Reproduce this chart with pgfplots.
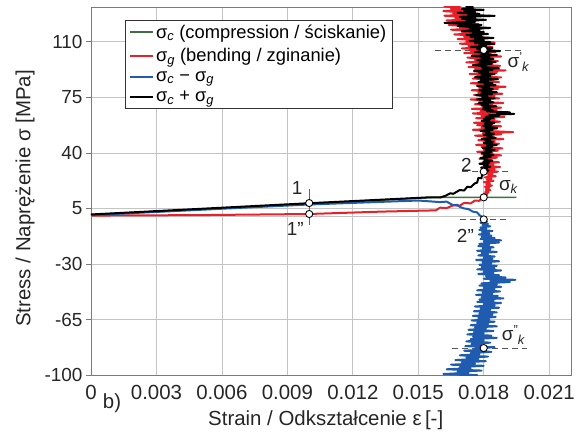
\documentclass[border=0pt]{standalone}
\usepackage{pgfplots}
\pgfplotsset{compat=1.18}
\usepackage{fontspec}
\setmainfont{Liberation Sans}
\definecolor{cgreen}{HTML}{3F6F3F}
\definecolor{cred}{HTML}{E8202A}
\definecolor{cblue}{HTML}{1F5BAE}
\definecolor{gridc}{HTML}{C4C4C4}
\definecolor{axc}{HTML}{7A7A7A}
\definecolor{dashc}{HTML}{555555}
\newcommand{\sk}[1]{σ\textsuperscript{\fontsize{13}{13}\selectfont #1}\kern-0.5bp\textsubscript{\fontsize{13}{13}\selectfont\itshape k}}
\begin{document}
\begin{tikzpicture}
\useasboundingbox (-91bp,-60bp) rectangle (494bp,375bp);
\begin{axis}[
  at={(0,0)}, anchor=south west,
  scale only axis, width=480bp, height=368bp,
  xmin=0, xmax=0.022, ymin=-100, ymax=132,
  xtick={0,0.003,0.006,0.009,0.012,0.015,0.018,0.021},
  xticklabels={0,0.003,0.006,0.009,0.012,0.015,0.018,0.021},
  scaled x ticks=false,
  ytick={-100,-65,-30,5,40,75,110},
  grid=major, grid style={gridc, line width=0.8bp},
  axis line style={axc, line width=0.9bp},
  ytick style={axc, line width=0.8bp},
  xtick style={draw=none},
  tick align=outside, major tick length=5bp,
  xtick pos=left, ytick pos=left,
  xticklabel style={font=\fontsize{20.5}{23}\selectfont, text=black!85, yshift=-2bp},
  yticklabel style={font=\fontsize{19}{22}\selectfont, text=black!85},
  /pgf/number format/assume math mode=true,
  label style={font=\fontsize{20.5}{23}\selectfont, text=black!85},
  xlabel={Strain / Odkształcenie ε\,[-]},
  ylabel={Stress / Naprężenie σ [MPa]},
  xlabel style={at={(axis description cs:0.489,-0.1223)}, anchor=center},
  ylabel style={at={(axis description cs:-0.1375,0.48)}, anchor=center},
  legend style={at={(axis description cs:0.0708,0.9647)}, anchor=north west,
    font=\fontsize{18.4}{20}\selectfont, draw=black!80, line width=0.8bp,
    inner xsep=4bp, inner ysep=3bp, row sep=5.5bp, cells={anchor=west},
    nodes={inner ysep=1.5bp, inner xsep=2bp}},
  legend image code/.code={\draw[#1, line width=2bp] (0cm,0cm) -- (0.8cm,0cm);},
]
% zero reference line
\addplot[forget plot, gridc, line width=0.8bp] coordinates {(0,0) (0.022,0)};
% dashed reference lines
\addplot[forget plot, dashc, line width=0.9bp, dash pattern=on 6bp off 4bp] coordinates {(0.01578,104.9) (0.01982,104.9)};
\addplot[forget plot, dashc, line width=0.9bp, dash pattern=on 6bp off 4bp] coordinates {(0.01702,28.2) (0.01922,28.2)};
\addplot[forget plot, dashc, line width=0.9bp, dash pattern=on 6bp off 4bp] coordinates {(0.01693,-1.9) (0.01913,-1.9)};
\addplot[forget plot, dashc, line width=0.9bp, dash pattern=on 6bp off 4bp] coordinates {(0.01656,-83) (0.0200,-83)};
\addplot[forget plot, black!60, line width=0.7bp] coordinates {(0.010,17.3) (0.010,-5.4)};

% sigma_c
\addplot[cgreen, line width=1.6bp] coordinates {(0,1.0) (0.010,7.9) (0.0157,12.0) (0.0195,12.0)};
\addlegendentry{σ\textsubscript{\textit{c}} (compression / ściskanie)}
% sigma_g
\addplot[cred, line width=2bp, line join=round] coordinates {
(0,0.5) (0.005,0.8) (0.010,1.5) (0.0133,3.0) (0.0158,3.8) (0.0160,5.5) (0.0163,5.2) (0.0166,7.0) (0.0169,6.7) (0.0171,8.5) (0.0174,8.2) (0.0176,10.0) (0.0178,9.8) (0.0179,11.5) (0.0180,12.0)
(0.01815,13.6) (0.01800,14.3) (0.01822,15.0) (0.01808,15.8) (0.01830,16.5) (0.01810,17.2) (0.01825,18.0) (0.01805,18.7) (0.01838,19.4) (0.01812,20.2)
(0.01828,20.9) (0.01800,21.6) (0.01845,22.4) (0.01815,23.1) (0.01835,23.8) (0.01805,24.6) (0.01855,25.3) (0.01820,26.0) (0.01840,26.8) (0.01810,27.5)
(0.01865,28.2) (0.01800,28.9) (0.01850,29.7) (0.01790,30.4) (0.01875,31.1) (0.01810,31.9) (0.01845,32.6) (0.01785,33.3) (0.01870,34.1) (0.01805,34.8)
(0.01838,35.5) (0.01780,36.3) (0.01860,37.0) (0.01800,37.7) (0.01880,38.5) (0.01790,39.2) (0.01840,39.9) (0.01770,40.7) (0.01865,41.4) (0.01800,42.1)
(0.01885,42.9) (0.01790,43.6) (0.01835,44.3) (0.01765,45.1) (0.01870,45.8) (0.01805,46.5) (0.01850,47.3) (0.01775,48.0) (0.01890,48.7) (0.01800,49.5)
(0.01845,50.2) (0.01760,50.9) (0.01880,51.7) (0.01795,52.4) (0.01935,53.1) (0.01810,53.9) (0.01750,54.6) (0.01860,55.3) (0.01790,56.1) (0.01880,56.8)
(0.01770,57.5) (0.01840,58.3) (0.01755,59.0) (0.01875,59.7) (0.01800,60.5) (0.01850,61.2) (0.01765,61.9) (0.01895,62.7) (0.01790,63.4) (0.01830,64.1)
(0.01750,64.9) (0.01870,65.6) (0.01785,66.3) (0.01860,67.1) (0.01745,67.8) (0.01880,68.5) (0.01795,69.3) (0.01840,70.0) (0.01760,70.7) (0.01890,71.5)
(0.01780,72.2) (0.01820,72.9) (0.01740,73.7) (0.01870,74.4) (0.01790,75.1) (0.01850,75.9) (0.01755,76.6) (0.01885,77.3) (0.01775,78.1) (0.01835,78.8)
(0.01745,79.5) (0.01865,80.3) (0.01780,81.0) (0.01900,81.7) (0.01770,82.5) (0.01825,83.2) (0.01740,83.9) (0.01870,84.7) (0.01785,85.4) (0.01845,86.1)
(0.01750,86.9) (0.01880,87.6) (0.01770,88.3) (0.01830,89.1) (0.01735,89.8) (0.01860,90.5) (0.01775,91.3) (0.01900,92.0) (0.01760,92.7) (0.01820,93.5)
(0.01730,94.2) (0.01875,94.9) (0.01770,95.7) (0.01840,96.4) (0.01720,97.1) (0.01865,97.9) (0.01760,98.6) (0.01810,99.3) (0.01725,100.1) (0.01880,100.8)
(0.01750,101.5) (0.01830,102.3) (0.01710,103.0) (0.01855,103.7) (0.01740,104.5) (0.01800,105.2) (0.01700,105.9) (0.01840,106.7) (0.01730,107.4) (0.01790,108.1)
(0.01690,108.9) (0.01850,109.6) (0.01720,110.3) (0.01770,111.1) (0.01680,111.8) (0.01820,112.5) (0.01710,113.3) (0.01760,114.0) (0.01665,114.7) (0.01800,115.5)
(0.01700,116.2) (0.01745,116.9) (0.01650,117.7) (0.01790,118.4) (0.01690,119.1) (0.01735,119.9) (0.01640,120.6) (0.01775,121.3) (0.01680,122.1) (0.01720,122.8)
(0.01630,123.5) (0.01760,124.3) (0.01670,125.0) (0.01710,125.7) (0.01620,126.5) (0.01750,127.2) (0.01660,127.9) (0.01700,128.7) (0.01615,129.4) (0.01740,130.1)
(0.01650,130.9) (0.01690,131.6) (0.01620,132.4) (0.01700,133.0)
};
\addlegendentry{σ\textsubscript{\textit{g}} (bending / zginanie)}
% sigma_c - sigma_g
\addplot[cblue, line width=2bp, line join=round] coordinates {
(0,0.8) (0.010,7.5) (0.0150,10.0) (0.0160,9.0) (0.0163,9.3) (0.01647,8.0) (0.0166,7.0) (0.0168,7.3) (0.0169,6.0) (0.0171,5.0) (0.0173,4.6) (0.0175,3.0) (0.0177,2.5) (0.0178,0.8) (0.01795,-0.5) (0.0180,-1.9)
(0.01790,-2.6) (0.01815,-3.3) (0.01785,-4.1) (0.01820,-4.8) (0.01795,-5.5) (0.01830,-6.3) (0.01785,-7.0) (0.01812,-7.7) (0.01780,-8.5) (0.01840,-9.2)
(0.01792,-9.9) (0.01825,-10.7) (0.01778,-11.4) (0.01835,-12.1) (0.01790,-12.9) (0.01850,-13.6) (0.01785,-14.3) (0.01880,-15.1) (0.01800,-15.8) (0.01870,-16.5)
(0.01780,-17.3) (0.01825,-18.0) (0.01775,-18.7) (0.01845,-19.5) (0.01795,-20.2) (0.01830,-20.9) (0.01770,-21.7) (0.01860,-22.4) (0.01790,-23.1) (0.01820,-23.9)
(0.01775,-24.6) (0.01850,-25.3) (0.01800,-26.1) (0.01840,-26.8) (0.01765,-27.5) (0.01870,-28.3) (0.01795,-29.0) (0.01835,-29.7) (0.01780,-30.5) (0.01860,-31.2)
(0.01790,-31.9) (0.01850,-32.7) (0.01770,-33.4) (0.01880,-34.1) (0.01800,-34.9) (0.01845,-35.6) (0.01775,-36.3) (0.01870,-37.1) (0.01810,-37.8) (0.01900,-38.5)
(0.01800,-39.3) (0.01945,-40.0) (0.01830,-40.7) (0.01920,-41.4) (0.01790,-42.2) (0.01860,-42.9) (0.01780,-43.6) (0.01880,-44.4) (0.01800,-45.1) (0.01850,-45.8)
(0.01770,-46.6) (0.01875,-47.3) (0.01795,-48.0) (0.01840,-48.8) (0.01765,-49.5) (0.01865,-50.2) (0.01790,-51.0) (0.01890,-51.7) (0.01780,-52.4) (0.01845,-53.2)
(0.01770,-53.9) (0.01880,-54.6) (0.01800,-55.4) (0.01850,-56.1) (0.01760,-56.8) (0.01870,-57.6) (0.01785,-58.3) (0.01830,-59.0) (0.01755,-59.8) (0.01860,-60.5)
(0.01780,-61.2) (0.01840,-62.0) (0.01750,-62.7) (0.01855,-63.4) (0.01775,-64.2) (0.01825,-64.9) (0.01745,-65.6) (0.01850,-66.4) (0.01770,-67.1) (0.01820,-67.8)
(0.01740,-68.6) (0.01860,-69.3) (0.01760,-70.0) (0.01810,-70.8) (0.01730,-71.5) (0.01845,-72.2) (0.01755,-73.0) (0.01800,-73.7) (0.01725,-74.4) (0.01835,-75.2)
(0.01750,-75.9) (0.01860,-76.6) (0.01740,-77.4) (0.01800,-78.1) (0.01720,-78.8) (0.01830,-79.6) (0.01745,-80.3) (0.01790,-81.0) (0.01715,-81.8) (0.01850,-82.5)
(0.01760,-83.2) (0.01800,-84.0) (0.01710,-84.7) (0.01835,-85.4) (0.01740,-86.2) (0.01780,-86.9) (0.01690,-87.6) (0.01820,-88.4) (0.01720,-89.1) (0.01775,-89.8)
(0.01670,-90.6) (0.01810,-91.3) (0.01700,-92.0) (0.01760,-92.8) (0.01650,-93.5) (0.01800,-94.2) (0.01690,-95.0) (0.01740,-95.7) (0.01630,-96.4) (0.01790,-97.2)
(0.01680,-97.9) (0.01730,-98.6) (0.01615,-99.4) (0.01770,-100.1) (0.01690,-100.8)
};
\addlegendentry{σ\textsubscript{\textit{c}} − σ\textsubscript{\textit{g}}}
% sigma_c + sigma_g
\addplot[black, line width=2bp, line join=round] coordinates {
(0,1.2) (0.010,8.3) (0.0155,12.0) (0.0160,11.9) (0.01625,13.0) (0.01647,14.6) (0.0166,14.2) (0.0169,16.6) (0.0171,16.3) (0.01725,18.7) (0.0174,18.4) (0.0176,20.9) (0.0177,21.3) (0.01775,24.2) (0.0179,24.0) (0.01793,27.4) (0.0180,28.2)
(0.01822,28.9) (0.01795,29.5) (0.01815,30.1) (0.01788,30.8) (0.01830,31.3) (0.01802,31.9) (0.01818,32.6) (0.01780,33.2) (0.01825,33.7) (0.01798,34.4)
(0.01840,35.0) (0.01805,35.6) (0.01812,36.3) (0.01785,36.9) (0.01832,37.4) (0.01800,38.1) (0.01845,38.7) (0.01810,39.3) (0.01790,40.0) (0.01835,40.6)
(0.01808,41.2) (0.01850,41.9) (0.01812,42.5) (0.01795,43.1) (0.01838,43.8) (0.01815,44.4) (0.01860,45.0) (0.01820,45.7) (0.01800,46.3) (0.01842,46.9)
(0.01810,47.6) (0.01830,48.2) (0.01790,48.8) (0.01855,49.5) (0.01818,50.1) (0.01835,50.7) (0.01800,51.4) (0.01848,52.0) (0.01812,52.6) (0.01826,53.3)
(0.01785,53.9) (0.01840,54.5) (0.01808,55.2) (0.01862,55.8) (0.01815,56.4) (0.01798,57.1) (0.01835,57.7) (0.01805,58.3) (0.01850,59.0) (0.01812,59.6)
(0.01790,60.2) (0.01828,60.9) (0.01800,61.5) (0.01845,62.1) (0.01810,62.8) (0.01870,63.4) (0.01825,64.0) (0.01940,64.6) (0.01860,65.1) (0.01920,65.6)
(0.01815,66.2) (0.01842,66.9) (0.01795,67.5) (0.01830,68.1) (0.01800,68.8) (0.01858,69.4) (0.01790,70.0) (0.01820,70.7) (0.01775,71.3) (0.01845,71.9)
(0.01800,72.6) (0.01830,73.2) (0.01770,73.8) (0.01850,74.5) (0.01795,75.1) (0.01815,75.7) (0.01765,76.4) (0.01838,77.0) (0.01790,77.6) (0.01860,78.3)
(0.01800,78.9) (0.01780,79.5) (0.01842,80.2) (0.01795,80.8) (0.01825,81.4) (0.01770,82.1) (0.01855,82.7) (0.01805,83.3) (0.01840,84.0) (0.01775,84.6)
(0.01820,85.2) (0.01785,85.9) (0.01865,86.5) (0.01800,87.1) (0.01760,87.8) (0.01830,88.4) (0.01790,89.0) (0.01850,89.7) (0.01780,90.3) (0.01820,90.9)
(0.01755,91.6) (0.01840,92.2) (0.01795,92.8) (0.01870,93.5) (0.01790,94.1) (0.01810,94.7) (0.01750,95.4) (0.01835,96.0) (0.01780,96.6) (0.01855,97.3)
(0.01795,97.9) (0.01770,98.5) (0.01845,99.2) (0.01790,99.8) (0.01825,100.4) (0.01745,101.1) (0.01860,101.7) (0.01790,102.3) (0.01820,103.0) (0.01760,103.6)
(0.01875,104.2) (0.01800,104.9) (0.01770,105.5) (0.01840,106.1) (0.01740,106.8) (0.01810,107.4) (0.01780,108.0) (0.01850,108.7) (0.01760,109.3) (0.01830,109.9)
(0.01735,110.6) (0.01800,111.2) (0.01760,111.8) (0.01845,112.5) (0.01740,113.1) (0.01790,113.7) (0.01720,114.4) (0.01820,115.0) (0.01750,115.6) (0.01800,116.3)
(0.01700,116.9) (0.01780,117.5) (0.01735,118.2) (0.01830,118.8) (0.01740,119.4) (0.01680,120.1) (0.01790,120.7) (0.01730,121.3) (0.01620,122.0) (0.01760,122.6)
(0.01720,123.2) (0.01810,123.9) (0.01700,124.5) (0.01760,125.1) (0.01690,125.8) (0.01850,126.4) (0.01730,127.0) (0.01780,127.7) (0.01680,128.3) (0.01760,128.9)
(0.01710,129.6) (0.01800,130.2) (0.01700,130.8) (0.01750,131.5) (0.01720,132.5) (0.01760,133.2)
};
\addlegendentry{σ\textsubscript{\textit{c}} + σ\textsubscript{\textit{g}}}
% characteristic points
\addplot[forget plot, only marks, mark=*, mark size=3.6bp, mark options={fill=white, draw=black, line width=0.9bp}] coordinates {
(0.010,8.4) (0.010,1.5) (0.018,28.2) (0.018,12.0) (0.018,-1.9) (0.018,104.9) (0.018,-83)};
% annotations
\node[font=\fontsize{19}{21}\selectfont, text=black!85] at (axis cs:0.00945,17.9) {1};
\node[font=\fontsize{19}{21}\selectfont, text=black!85] at (axis cs:0.00936,-8.0) {1''};
\node[font=\fontsize{19}{21}\selectfont, text=black!85] at (axis cs:0.0172,32.4) {2};
\node[font=\fontsize{19}{21}\selectfont, text=black!85] at (axis cs:0.01716,-12.4) {2''};
\node[font=\fontsize{19}{21}\selectfont, text=black!85] at (axis cs:0.01959,97.3) {\sk{’}};
\node[font=\fontsize{19}{21}\selectfont, text=black!85] at (axis cs:0.01913,18.5) {σ\textsubscript{\fontsize{13}{13}\selectfont\itshape k}};
\node[font=\fontsize{19}{21}\selectfont, text=black!85] at (axis cs:0.01936,-74.8) {\sk{”}};
\end{axis}
\node[font=\fontsize{20.5}{23}\selectfont, text=black!85] at (21bp,-28bp) {b)};
\end{tikzpicture}
\end{document}
